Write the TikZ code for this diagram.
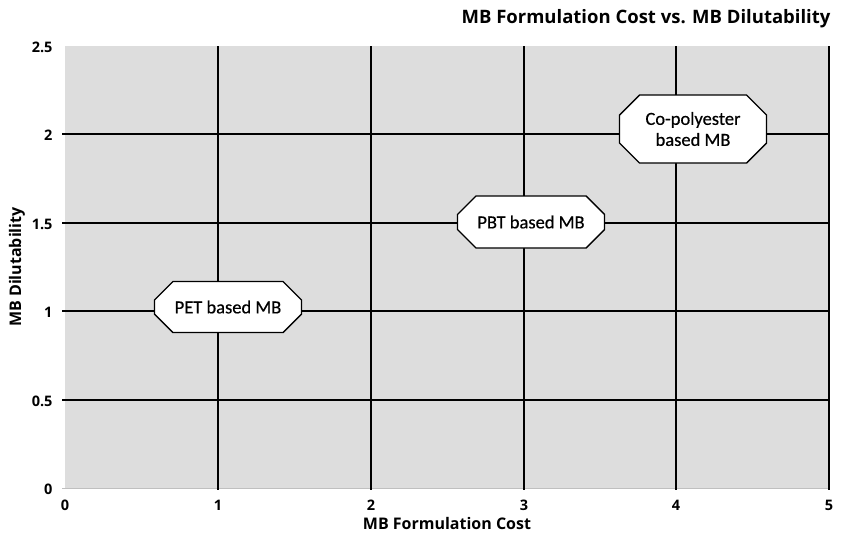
\documentclass[tikz,border=0pt]{standalone}
\usepackage{fontspec}
\setmainfont{Open Sans}
\newfontfamily\nodefont[FakeBold=0.5]{Carlito}
\usetikzlibrary{shapes.misc}
\begin{document}
\begin{tikzpicture}[x=1pt,y=-1pt,
  grid/.style={line width=1.6pt,black},
  tick/.style={font=\fontsize{14.5}{16}\selectfont\bfseries},
  axtitle/.style={font=\fontsize{16}{18}\selectfont\bfseries},
  tag/.style={chamfered rectangle,chamfered rectangle xsep=10pt,chamfered rectangle ysep=10pt,
    draw=black,line width=1.4pt,fill=white,minimum width=147pt,minimum height=51pt,inner sep=2pt,
    align=center,font=\nodefont\fontsize{18.5}{21}\selectfont}]
\useasboundingbox (0,0) rectangle (845,539);
% plot area
\fill[gray!27] (65,46) rectangle (829,488);
\draw[gray!50,line width=0.8pt] (62,488) -- (829,488);
% horizontal grid
\foreach \yy in {134,223,311,400} \draw[grid] (62,\yy) -- (829,\yy);
% vertical grid
\foreach \xx in {218,371,524,676,829} \draw[grid] (\xx,46) -- (\xx,490);
% y tick labels
\foreach \yy/\lab in {46/2.5,134/2,223/1.5,311/1,400/0.5,488/0}
  \node[tick,anchor=east] (y\lab) at (56,\yy+1) {\lab};
% x tick labels
\foreach \xx/\lab in {65/0,218/1,371/2,524/3,676/4,829/5}
  \node[tick] (x\lab) at (\xx,505) {\lab};
% axis titles
\node[axtitle] (xtitle) at (447,523) {MB Formulation Cost};
\node[axtitle,rotate=90] (ytitle) at (17,267) {MB Dilutability};
\node[font=\fontsize{18.5}{21}\selectfont\bfseries,anchor=east] (title) at (834,19) {MB Formulation Cost vs. MB Dilutability};
% tags
\node[tag] (pet) at (228,307) {PET based MB};
\node[tag,minimum height=52pt] (pbt) at (531,222) {PBT based MB};
\node[tag,minimum height=68pt] (copet) at (693,129) {Co-polyester\\based MB};
\end{tikzpicture}
\end{document}
